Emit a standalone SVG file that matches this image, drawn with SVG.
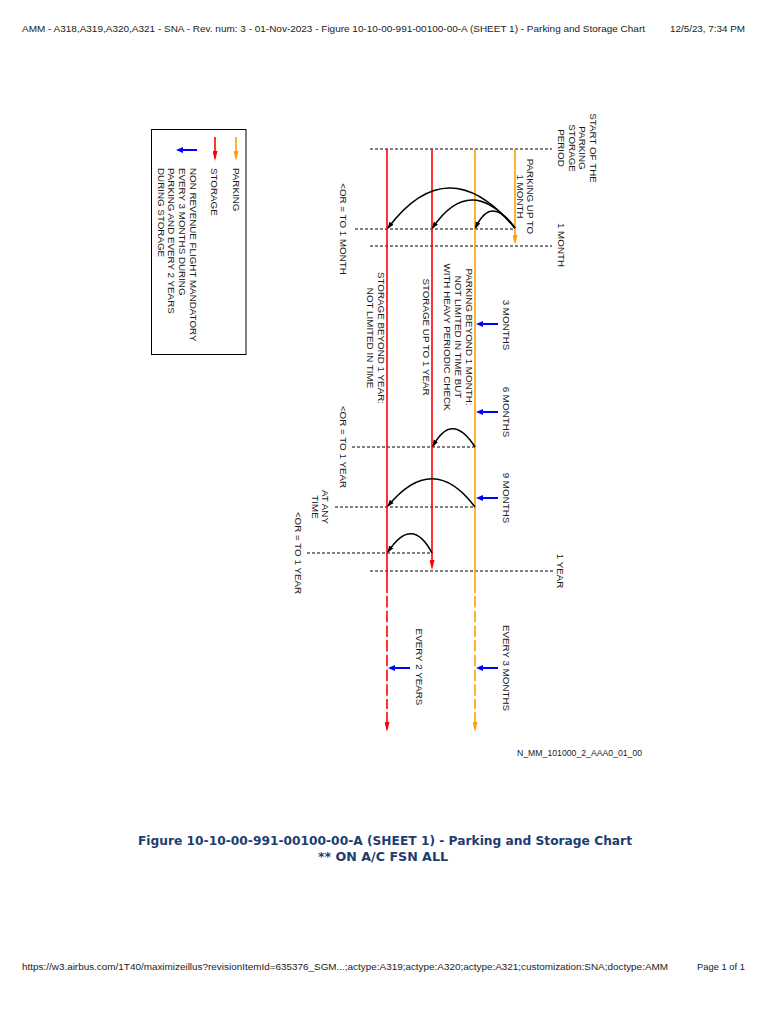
<svg xmlns="http://www.w3.org/2000/svg" width="768" height="1024" viewBox="0 0 768 1024">
<style>
.hdr{font-family:"Liberation Sans",Arial,Helvetica,sans-serif;font-size:9.6px;fill:#222}
.t{font-family:"Liberation Sans",Arial,Helvetica,sans-serif;font-size:9.8px;fill:#1a1a1a}
.tm{text-anchor:middle}
.cap{font-family:"DejaVu Sans",Verdana,sans-serif;font-weight:bold;font-size:12px;fill:#1d3d72;text-anchor:middle}
.red{stroke:#ff0000;stroke-width:1.6;fill:none}
.org{stroke:#ffa000;stroke-width:1.6;fill:none}
.dashed{stroke-dasharray:11.5 3.2}
.hl{stroke:#000;stroke-width:1;stroke-dasharray:3 2;fill:none}
.arc{stroke:#000;stroke-width:1.6;fill:none;marker-end:url(#mArc)}
.blue{stroke:#0000ff;stroke-width:2;fill:none;marker-end:url(#mBlue)}
</style>
<defs>
<marker id="mArc" markerUnits="userSpaceOnUse" markerWidth="8" markerHeight="6" refX="6" refY="3" orient="auto"><path d="M0,0.5 L7,3 L0,5.5 z" fill="#000"/></marker>
<marker id="mRed" markerUnits="userSpaceOnUse" markerWidth="11" markerHeight="5" refX="7" refY="2.5" orient="auto"><path d="M0,0 L10,2.5 L0,5 z" fill="#ff0000"/></marker>
<marker id="mOrg" markerUnits="userSpaceOnUse" markerWidth="11" markerHeight="5" refX="7" refY="2.5" orient="auto"><path d="M0,0 L10,2.5 L0,5 z" fill="#ffa000"/></marker>
<marker id="mBlue" markerUnits="userSpaceOnUse" markerWidth="8" markerHeight="7" refX="5" refY="3" orient="auto"><path d="M0,0 L7,3 L0,6 z" fill="#0000ff"/></marker>
</defs>
<rect width="768" height="1024" fill="#fff"/>

<g id="header">
<text class="hdr" x="22" y="31.5" textLength="623" lengthAdjust="spacingAndGlyphs">AMM - A318,A319,A320,A321 - SNA - Rev. num: 3 - 01-Nov-2023 - Figure 10-10-00-991-00100-00-A (SHEET 1) - Parking and Storage Chart</text>
<text class="hdr" x="745" y="31.5" text-anchor="end" textLength="75" lengthAdjust="spacingAndGlyphs">12/5/23, 7:34 PM</text>
</g>

<g id="legend">
<rect x="151.5" y="129.5" width="94.5" height="225" fill="none" stroke="#000" stroke-width="1"/>
<line x1="236" y1="137" x2="236" y2="158" stroke="#ffa000" stroke-width="1.6" marker-end="url(#mOrg)"/>
<line x1="215" y1="137" x2="215" y2="158" stroke="#ff0000" stroke-width="1.6" marker-end="url(#mRed)"/>
<line x1="197" y1="150" x2="178" y2="150" class="blue"/>
<text class="t" transform="translate(232.5,168) rotate(90)">PARKING</text>
<text class="t" transform="translate(210.5,168) rotate(90)">STORAGE</text>
<text class="t" transform="translate(190,168) rotate(90)"><tspan x="0" y="0">NON REVENUE FLIGHT MANDATORY</tspan><tspan x="0" dy="10.8">EVERY 3 MONTHS DURING</tspan><tspan x="0" dy="10.8">PARKING AND EVERY 2 YEARS</tspan><tspan x="0" dy="10.8">DURING STORAGE</tspan></text>
</g>

<g id="reference-lines">
<line class="hl" x1="370" y1="149" x2="552" y2="149"/>
<line class="hl" x1="355" y1="229" x2="515" y2="229"/>
<line class="hl" x1="370" y1="246" x2="552" y2="246"/>
<line class="hl" x1="352" y1="447" x2="475" y2="447"/>
<line class="hl" x1="335" y1="507" x2="475" y2="507"/>
<line class="hl" x1="307" y1="553" x2="432" y2="553"/>
<line class="hl" x1="370" y1="571" x2="553" y2="571"/>
</g>

<g id="storage-beyond-1-year">
<line class="red" x1="387" y1="149" x2="387" y2="593"/>
<line class="red dashed" x1="387" y1="596" x2="387" y2="709"/>
<line class="red" x1="387" y1="712" x2="387" y2="729" marker-end="url(#mRed)"/>
</g>
<g id="storage-up-to-1-year">
<line class="red" x1="432" y1="149" x2="432" y2="567" marker-end="url(#mRed)"/>
</g>
<g id="parking-beyond-1-month">
<line class="org" x1="475" y1="149" x2="475" y2="593"/>
<line class="org dashed" x1="475" y1="596" x2="475" y2="709"/>
<line class="org" x1="475" y1="712" x2="475" y2="729" marker-end="url(#mOrg)"/>
</g>
<g id="parking-up-to-1-month">
<line class="org" x1="515" y1="149" x2="515" y2="242" marker-end="url(#mOrg)"/>
</g>

<g id="connectors">
<path class="arc" d="M515,228 Q448,148 388,228"/>
<path class="arc" d="M515,228 Q470.5,172 432.5,228"/>
<path class="arc" d="M515,228 Q491,194 475.5,228"/>
<path class="arc" d="M475,447 Q452,411 433,446"/>
<path class="arc" d="M475,507 Q433,451 388,506"/>
<path class="arc" d="M432,553 Q412,515 388,552"/>
<line class="blue" x1="498" y1="324" x2="478" y2="324"/>
<line class="blue" x1="498" y1="412" x2="478" y2="412"/>
<line class="blue" x1="498" y1="498" x2="478" y2="498"/>
<line class="blue" x1="498" y1="668" x2="478" y2="668"/>
<line class="blue" x1="410" y1="668" x2="390" y2="668"/>
</g>

<g id="labels">
<text class="t tm" transform="translate(589.5,148) rotate(90)"><tspan x="0" y="0">START OF THE</tspan><tspan x="0" dy="10.5">PARKING</tspan><tspan x="0" dy="10.5">STORAGE</tspan><tspan x="0" dy="10.5">PERIOD</tspan></text>
<text class="t tm" transform="translate(527,196.5) rotate(90)"><tspan x="0" y="0">PARKING UP TO</tspan><tspan x="0" dy="10.5">1 MONTH</tspan></text>
<text class="t tm" transform="translate(558,245) rotate(90)">1 MONTH</text>
<text class="t tm" transform="translate(340,229) rotate(90)">&lt;OR = TO 1 MONTH</text>
<text class="t tm" transform="translate(465.7,337) rotate(90)"><tspan x="0" y="0">PARKING BEYOND 1 MONTH:</tspan><tspan x="0" dy="11">NOT LIMITED IN TIME BUT</tspan><tspan x="0" dy="11">WITH HEAVY PERIODIC CHECK</tspan></text>
<text class="t tm" transform="translate(423,337) rotate(90)">STORAGE UP TO 1 YEAR</text>
<text class="t tm" transform="translate(378,338) rotate(90)"><tspan x="0" y="0">STORAGE BEYOND 1 YEAR:</tspan><tspan x="0" dy="11.3">NOT LIMITED IN TIME</tspan></text>
<text class="t tm" transform="translate(503,325) rotate(90)">3 MONTHS</text>
<text class="t tm" transform="translate(503,412) rotate(90)">6 MONTHS</text>
<text class="t tm" transform="translate(340,447) rotate(90)">&lt;OR = TO 1 YEAR</text>
<text class="t tm" transform="translate(503,498) rotate(90)">9 MONTHS</text>
<text class="t tm" transform="translate(322,507) rotate(90)"><tspan x="0" y="0">AT ANY</tspan><tspan x="0" dy="10.5">TIME</tspan></text>
<text class="t tm" transform="translate(294.5,553) rotate(90)">&lt;OR = TO 1 YEAR</text>
<text class="t tm" transform="translate(557,571) rotate(90)">1 YEAR</text>
<text class="t tm" transform="translate(415.5,667) rotate(90)">EVERY 2 YEARS</text>
<text class="t tm" transform="translate(503,668) rotate(90)">EVERY 3 MONTHS</text>
<text class="t" x="517" y="756" style="font-size:8.7px">N_MM_101000_2_AAA0_01_00</text>
</g>

<g id="caption">
<text class="cap" x="385" y="845" textLength="494" lengthAdjust="spacingAndGlyphs">Figure 10-10-00-991-00100-00-A (SHEET 1) - Parking and Storage Chart</text>
<text class="cap" x="383" y="861" textLength="130" lengthAdjust="spacingAndGlyphs">** ON A/C FSN ALL</text>
</g>

<g id="footer">
<text class="hdr" x="22" y="969.5" textLength="646" lengthAdjust="spacingAndGlyphs">https://w3.airbus.com/1T40/maximizeillus?revisionItemId=635376_SGM...;actype:A319;actype:A320;actype:A321;customization:SNA;doctype:AMM</text>
<text class="hdr" x="745" y="969.5" text-anchor="end" textLength="48" lengthAdjust="spacingAndGlyphs">Page 1 of 1</text>
</g>
</svg>
